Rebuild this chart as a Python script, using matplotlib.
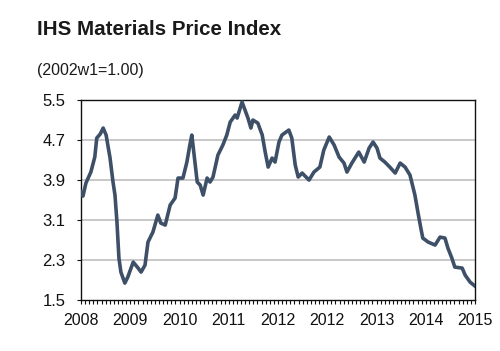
import numpy as np
import matplotlib
matplotlib.use('Agg')
from matplotlib import pyplot as plt
from matplotlib.ticker import MultipleLocator

plt.rcParams['font.family'] = ['Liberation Sans', 'DejaVu Sans']

# position along the axis (0 = first label, 8 = last label) and index value
t = [0.00, 0.04, 0.10, 0.20, 0.28, 0.32, 0.39, 0.45, 0.51, 0.59, 0.65, 0.69,
     0.73, 0.77, 0.81, 0.89, 0.95, 1.06, 1.16, 1.22, 1.30, 1.36, 1.46, 1.56,
     1.62, 1.71, 1.81, 1.91, 1.97, 2.07, 2.15, 2.21, 2.25, 2.29, 2.36, 2.42,
     2.48, 2.56, 2.62, 2.68, 2.78, 2.88, 2.96, 3.03, 3.13, 3.17, 3.27, 3.33,
     3.39, 3.45, 3.49, 3.59, 3.68, 3.74, 3.80, 3.88, 3.94, 4.02, 4.08, 4.22,
     4.28, 4.35, 4.41, 4.49, 4.63, 4.73, 4.85, 4.93, 5.04, 5.14, 5.24, 5.34,
     5.40, 5.50, 5.64, 5.75, 5.85, 5.93, 6.01, 6.07, 6.17, 6.27, 6.38, 6.48,
     6.58, 6.68, 6.78, 6.84, 6.90, 6.94, 7.05, 7.19, 7.29, 7.39, 7.45, 7.53,
     7.59, 7.74, 7.80, 7.90, 8.00]
price = [3.66, 3.58, 3.84, 4.06, 4.36, 4.74, 4.82, 4.94, 4.80, 4.34, 3.86, 3.60,
         3.06, 2.34, 2.06, 1.84, 1.96, 2.26, 2.14, 2.06, 2.20, 2.66, 2.86, 3.20,
         3.04, 3.00, 3.40, 3.54, 3.94, 3.94, 4.26, 4.60, 4.80, 4.46, 3.86, 3.80,
         3.60, 3.94, 3.86, 3.96, 4.40, 4.60, 4.80, 5.06, 5.20, 5.14, 5.46, 5.30,
         5.14, 4.94, 5.10, 5.04, 4.80, 4.46, 4.16, 4.34, 4.26, 4.66, 4.80, 4.90,
         4.74, 4.20, 3.96, 4.04, 3.90, 4.06, 4.16, 4.50, 4.76, 4.60, 4.36, 4.24,
         4.06, 4.24, 4.46, 4.26, 4.54, 4.66, 4.54, 4.34, 4.26, 4.16, 4.04, 4.24,
         4.16, 4.00, 3.60, 3.26, 2.94, 2.74, 2.66, 2.60, 2.76, 2.74, 2.54, 2.34,
         2.16, 2.14, 2.00, 1.86, 1.78]

xlabels = ['2008', '2009', '2010', '2011', '2012', '2012', '2013', '2014', '2015']
yticks = [1.5, 2.3, 3.1, 3.9, 4.7, 5.5]

fig = plt.figure(figsize=(5.0, 3.51), dpi=100)
ax = fig.add_axes([0.162, 0.145, 0.788, 0.570])

for y in yticks[1:-1]:
    ax.axhline(y, color='#c4c4c4', lw=1.3, zorder=1)
ax.plot(t, price, color='#3e5068', lw=2.6, zorder=3)

ax.set_xlim(0, 8)
ax.set_ylim(1.5, 5.5)
ax.set_yticks(yticks)
ax.set_yticklabels([f'{y:.1f}' for y in yticks])
ax.set_xticks(range(9))
ax.set_xticklabels(xlabels)
ax.xaxis.set_minor_locator(MultipleLocator(1 / 12))
ax.tick_params(axis='x', which='both', direction='out', length=3, width=0.8,
               labelsize=11.5, pad=6, colors='#111111')
ax.tick_params(axis='y', length=3, width=0.8, labelsize=12, pad=8, colors='#111111')
for s in ax.spines.values():
    s.set_color('#111111')
    s.set_linewidth(1.0)

fig.text(0.074, 0.915, 'IHS Materials Price Index', fontsize=14.8, fontweight='bold',
         color='#1a1a1a', va='center')
fig.text(0.074, 0.80, '(2002w1=1.00)', fontsize=11.5, color='#1a1a1a', va='center')

fig.savefig('out.png', dpi=100)
